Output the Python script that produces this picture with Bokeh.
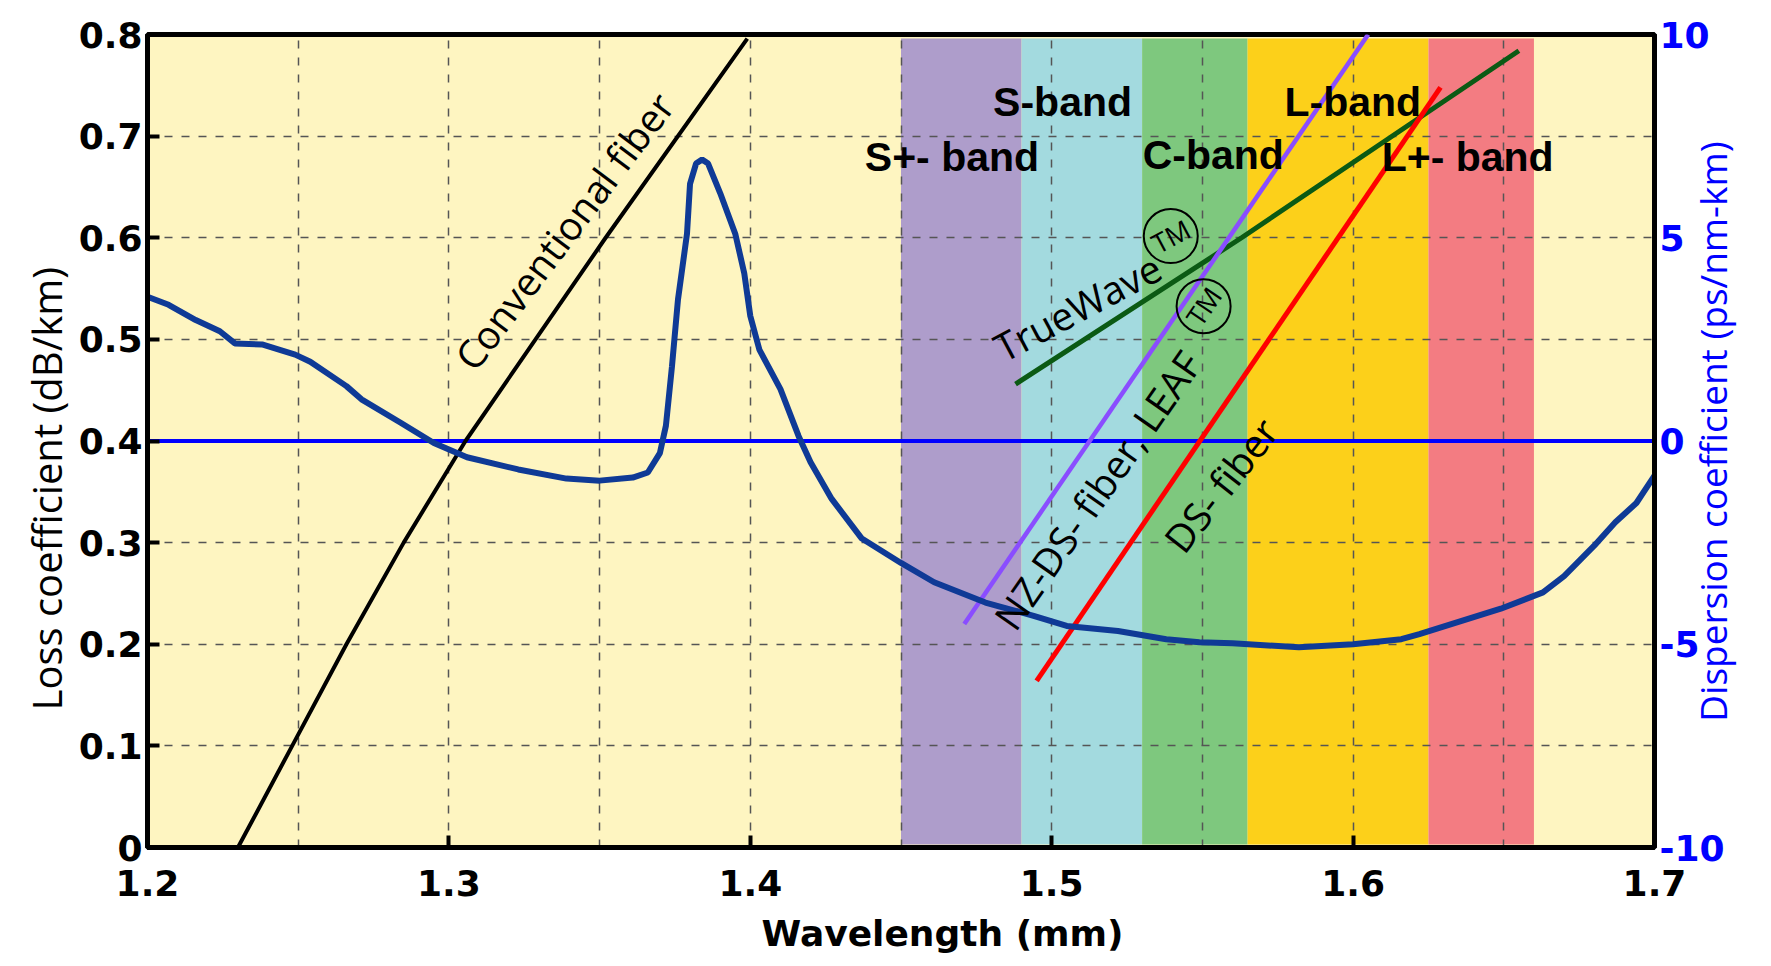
import math
from bokeh.plotting import figure
from bokeh.models import Range1d, LinearAxis, FixedTicker, Title
from bokeh.core.properties import value
from bokeh.embed import file_html
from bokeh.resources import INLINE

# ---------------- data ----------------
# Loss spectrum (dB/km) vs wavelength
loss_wl = [1.200, 1.207, 1.216, 1.224, 1.229, 1.238, 1.249, 1.254, 1.266, 1.271,
           1.284, 1.295, 1.306, 1.323, 1.339, 1.350, 1.361, 1.366, 1.370, 1.372,
           1.374, 1.376, 1.379, 1.380, 1.382, 1.384, 1.386, 1.390, 1.395, 1.398,
           1.400, 1.403, 1.410, 1.416, 1.420, 1.427, 1.437, 1.450, 1.461, 1.478,
           1.494, 1.505, 1.522, 1.538, 1.549, 1.560, 1.582, 1.600, 1.616, 1.622,
           1.649, 1.663, 1.670, 1.680, 1.687, 1.694, 1.700]
loss_val = [0.542, 0.534, 0.519, 0.508, 0.496, 0.495, 0.485, 0.478, 0.454, 0.441,
            0.418, 0.398, 0.384, 0.372, 0.363, 0.361, 0.364, 0.369, 0.388, 0.415,
            0.473, 0.539, 0.604, 0.653, 0.673, 0.677, 0.673, 0.644, 0.604, 0.565,
            0.523, 0.490, 0.451, 0.405, 0.379, 0.343, 0.304, 0.280, 0.261, 0.241,
            0.228, 0.218, 0.213, 0.205, 0.202, 0.201, 0.197, 0.200, 0.205, 0.210,
            0.235, 0.251, 0.267, 0.297, 0.320, 0.339, 0.366]

# Dispersion (ps/nm-km) of fibre types
conv_wl = [1.230, 1.248, 1.266, 1.285, 1.3055, 1.352, 1.399]
conv_d = [-10.0, -7.5, -5.0, -2.5, 0.0, 5.0, 9.9]
truewave_wl = [1.488, 1.563, 1.623, 1.655]
truewave_d = [1.4, 5.0, 8.0, 9.6]
leaf_wl = [1.471, 1.605]
leaf_d = [-4.5, 10.0]
ds_wl = [1.495, 1.629]
ds_d = [-5.9, 8.7]
zero_wl = [1.2, 1.7]
zero_d = [0.0, 0.0]

# Transmission bands
band_names = ["S+- band", "S-band", "C-band", "L-band", "L+- band"]
band_start = [1.45, 1.49, 1.53, 1.565, 1.625]
band_end = [1.49, 1.53, 1.565, 1.625, 1.66]
band_colors = ["#AE9DCB", "#A3DADF", "#7EC87E", "#FCD01A", "#F37C82"]

# Axes ticks
x_ticks = [1.2, 1.3, 1.4, 1.5, 1.6, 1.7]
x_tick_labels = ["1.2", "1.3", "1.4", "1.5", "1.6", "1.7"]
x_grid = [1.25, 1.3, 1.35, 1.4, 1.45, 1.5, 1.55, 1.6, 1.65]
y_ticks = [0, 0.1, 0.2, 0.3, 0.4, 0.5, 0.6, 0.7, 0.8]
y_tick_labels = ["0", "0.1", "0.2", "0.3", "0.4", "0.5", "0.6", "0.7", "0.8"]
d_ticks = [-10, -5, 0, 5, 10]
d_tick_labels = ["-10", "-5", "0", "5", "10"]

x_title = "Wavelength (mm)"
left_title = "Loss coefficient (dB/km)"
right_title = "Dispersion coefficient (ps/nm-km)"

# ---------------- figure ----------------
p = figure(width=1771, height=966, output_backend="svg", toolbar_location=None,
           x_range=Range1d(1.2, 1.7), y_range=Range1d(0, 0.8),
           min_border_left=147, min_border_right=117,
           min_border_top=34, min_border_bottom=117,
           background_fill_color="#FEF5C1", border_fill_color="white")
p.extra_y_ranges = {"disp": Range1d(-10, 10)}

p.outline_line_color = "black"
p.outline_line_width = 5

# bands (below the grid)
band_r = p.quad(left=band_start, right=band_end, bottom=0.003, top=0.796,
                fill_color=band_colors, line_color=None)
band_r.level = "image"

# grid
p.xgrid.ticker = FixedTicker(ticks=x_grid)
p.ygrid.ticker = FixedTicker(ticks=y_ticks[1:-1])
for g in (p.xgrid, p.ygrid):
    g.grid_line_color = "#555555"
    g.grid_line_width = 1.5
    g.grid_line_dash = "8 9"

# axes
font_bold = "DejaVu Sans"
p.xaxis.ticker = FixedTicker(ticks=x_ticks)
p.xaxis.major_label_overrides = {t: l for t, l in zip(x_ticks, x_tick_labels)}
p.yaxis.ticker = FixedTicker(ticks=y_ticks)
p.yaxis.major_label_overrides = {t: l for t, l in zip(y_ticks, y_tick_labels)}

right = LinearAxis(y_range_name="disp", ticker=FixedTicker(ticks=d_ticks))
right.major_label_overrides = {t: l for t, l in zip(d_ticks, d_tick_labels)}
p.add_layout(right, "right")

for ax in (p.xaxis[0], p.yaxis[0], right):
    ax.axis_line_color = "black"
    ax.axis_line_width = 5
    ax.major_tick_line_color = "black"
    ax.major_tick_line_width = 4
    ax.major_tick_in = 12
    ax.major_tick_out = 0
    ax.minor_tick_line_color = None
    ax.major_label_text_font = font_bold
    ax.major_label_text_font_style = "bold"
    ax.major_label_text_font_size = "36px"
    ax.major_label_text_color = "black"
right.major_tick_in = 0
right.major_label_text_color = "#0000FF"
right.major_label_standoff = 9
p.xaxis.major_label_standoff = 22
p.yaxis.major_label_standoff = 5

# right-hand title: one rotated tick label of an outer axis
right_lab = LinearAxis(ticker=FixedTicker(ticks=[0.1237]),
                       major_label_overrides={0.1237: right_title},
                       major_label_orientation=math.pi / 2,
                       axis_line_color=None, major_tick_line_color=None,
                       minor_tick_line_color=None,
                       major_label_standoff=-21,
                       major_label_text_font="Open Sans",
                       major_label_text_font_size="37px",
                       major_label_text_color="#0000FF")
p.add_layout(right_lab, "right")

# left and bottom titles
p.add_layout(Title(text=left_title, align="left", offset=137, vertical_align="top",
                   standoff=0, text_font="Open Sans", text_font_size="40px",
                   text_font_style="normal", text_color="black"), "left")
p.add_layout(Title(text=x_title, align="left", offset=614, vertical_align="bottom",
                   standoff=25, text_font=font_bold, text_font_size="36px",
                   text_font_style="bold", text_color="black"), "below")

# lines
p.line(zero_wl, zero_d, y_range_name="disp", line_color="#0000FF", line_width=4)
p.line(conv_wl, conv_d, y_range_name="disp", line_color="black", line_width=4)
p.line(truewave_wl, truewave_d, y_range_name="disp", line_color="#0B5A14", line_width=5)
p.line(leaf_wl, leaf_d, y_range_name="disp", line_color="#8A4DFF", line_width=4.5)
p.line(ds_wl, ds_d, y_range_name="disp", line_color="#FF0000", line_width=5)
p.line(loss_wl, loss_val, line_color="#0F3A96", line_width=6)

# band labels
p.text(x=[1.4669, 1.5036, 1.5536, 1.5999, 1.638],
       y=[0.679, 0.7335, 0.681, 0.7335, 0.679],
       text=band_names, text_font=value("Liberation Sans"), text_font_style="bold",
       text_font_size="41px", text_align="center", text_baseline="alphabetic",
       text_color="black")

# fibre labels
ann = dict(text_font=value("Open Sans"), text_font_size="39px",
           text_align="center", text_baseline="middle", text_color="black")
p.text(x=[1.3381], y=[0.607], text=["Conventional fiber"], angle=53,
       angle_units="deg", **ann)
p.text(x=[1.5085], y=[0.532], text=["TrueWave"], angle=28, angle_units="deg", **ann)
p.text(x=[1.515], y=[0.352], text=["NZ-DS- fiber, LEAF"], angle=55,
       angle_units="deg", **ann)
p.text(x=[1.556], y=[0.357], text=["DS- fiber"], angle=52, angle_units="deg", **ann)

# trademark circles
p.scatter(x=[1.5395, 1.5504], y=[0.6017, 0.5327], marker="circle", size=54,
          fill_color=None, line_color="black", line_width=2)
tm = dict(text_font=value("Open Sans"), text_font_size="27px",
          text_align="center", text_baseline="middle", text_color="black")
p.text(x=[1.5395], y=[0.6017], text=["TM"], angle=28, angle_units="deg", **tm)
p.text(x=[1.5504], y=[0.5327], text=["TM"], angle=56, angle_units="deg", **tm)

open("out.html", "w").write(file_html(p, INLINE))
